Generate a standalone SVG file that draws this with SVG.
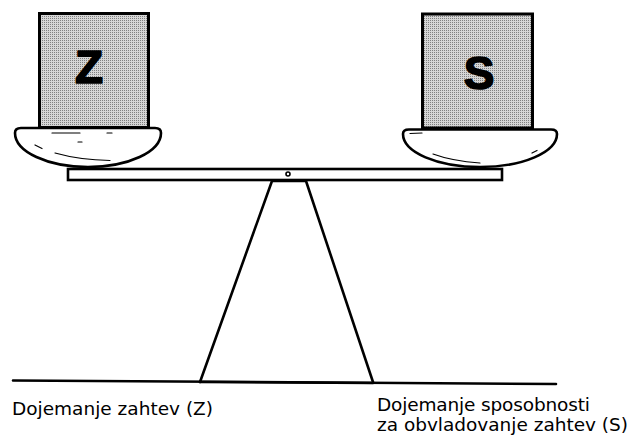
<svg xmlns="http://www.w3.org/2000/svg" width="634" height="443" viewBox="0 0 634 443">
  <defs>
    <!-- fine halftone used for the weight blocks -->
    <pattern id="halftone" patternUnits="userSpaceOnUse" width="2" height="2">
      <rect width="2" height="2" fill="#d6d6d6"/>
      <rect width="1" height="1" fill="#808080"/>
    </pattern>
  </defs>
  <style>
    .ink { fill: none; stroke: #000; stroke-width: 2.6; stroke-linejoin: round; stroke-linecap: round; }
    .pan { fill: #fff; stroke: #000; stroke-width: 2.6; stroke-linejoin: round; }
    .shine { fill: none; stroke: #000; stroke-width: 1.2; stroke-linecap: round; }
    .block { fill: url(#halftone); stroke: #000; stroke-width: 3; }
    .letter { font-family: "Liberation Sans", Arial, sans-serif; font-weight: bold; font-size: 46px; fill: #000; stroke: #000; stroke-width: 1.6; stroke-linejoin: round; text-anchor: middle; }
    .label { font-family: "DejaVu Sans", "Liberation Sans", sans-serif; font-size: 18.5px; fill: #000; }
  </style>

  <!-- ground -->
  <g id="ground">
    <line class="ink" x1="13" y1="380.5" x2="556" y2="384" stroke-width="2"/>
    <line class="ink" x1="200" y1="382" x2="373" y2="383" stroke-width="3.4"/>
  </g>

  <!-- stand -->
  <g id="stand">
    <polyline class="ink" points="200,382 272,181 306,181 373,382" stroke-width="3"/>
  </g>

  <!-- beam with pivot -->
  <g id="beam">
    <rect x="68" y="169" width="434" height="11" fill="#fff" stroke="#000" stroke-width="2.6"/>
    <circle cx="288" cy="174" r="2" fill="#fff" stroke="#000" stroke-width="1.6"/>
  </g>

  <!-- left pan -->
  <g id="pan-left">
    <path class="pan" d="M15,133 C15,129.5 17,128 21,128 L155,128 C159,128 161,129.5 161,133 A73,34 0 0 1 15,133 Z"/>
    <path class="shine" d="M52,133 L80,133 M107,133 L112,133 M35,145 L42,148.5 M55,153 Q80,160 110,160.5 M78,142 L82,142"/>
  </g>

  <!-- right pan -->
  <g id="pan-right">
    <path class="pan" d="M403,134 C403,131 405,129.5 409,129.5 L551,129.5 C555,129.5 557,131 557,134 A77,33 0 0 1 403,134 Z"/>
    <path class="shine" d="M410,133.5 L422,133 M433,154 Q452,161 480,163 M532,153 L537,150.5"/>
  </g>

  <!-- weight Z -->
  <g id="box-z">
    <rect class="block" x="39.5" y="13.5" width="109" height="114"/>
    <text class="letter" x="89" y="83">Z</text>
  </g>

  <!-- weight S -->
  <g id="box-s">
    <rect class="block" x="422.5" y="14" width="110" height="114"/>
    <text class="letter" x="479" y="89">S</text>
  </g>

  <!-- captions -->
  <g id="labels">
    <text class="label" x="12" y="415" textLength="201">Dojemanje zahtev (Z)</text>
    <text class="label" x="377" y="411" textLength="213">Dojemanje sposobnosti</text>
    <text class="label" x="377" y="431" textLength="251">za obvladovanje zahtev (S)</text>
  </g>
</svg>
